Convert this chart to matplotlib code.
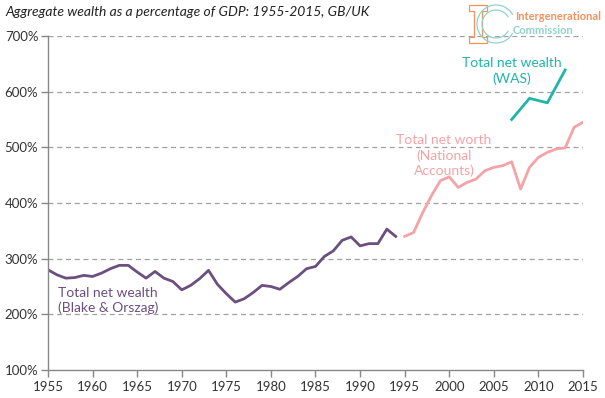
import matplotlib
matplotlib.use("Agg")
import matplotlib.pyplot as plt
from matplotlib.patches import Arc, Polygon

plt.rcParams['font.family'] = ['Lato', 'DejaVu Sans']

# Data
bo_years = list(range(1955, 1995))
bo_values = [280, 271, 265, 266, 270, 268, 274, 282, 288, 288,
             276, 265, 277, 265, 259, 244, 252, 264, 279, 254,
             237, 222, 228, 239, 252, 250, 245, 257, 268, 282,
             286, 304, 314, 333, 339, 323, 327, 327, 353, 340]
na_years = list(range(1995, 2016))
na_values = [340, 347, 382, 413, 440, 447, 428, 437, 443, 458,
             464, 467, 474, 425, 464, 482, 491, 497, 499, 536, 545]
was_years = [2007, 2009, 2011, 2013]
was_values = [550, 588, 580, 639]

xticks = list(range(1955, 2016, 5))
yticks = [100, 200, 300, 400, 500, 600, 700]

purple = '#6b4f7f'
pink = '#f4a3a6'
teal = '#20b5a7'
gray = '#888888'

fig = plt.figure(figsize=(6.05, 3.98), dpi=100)
ax = fig.add_axes([48/605, 1-370/398, 535/605, 334/398])

ax.plot(bo_years, bo_values, color=purple, lw=2)
ax.plot(na_years, na_values, color=pink, lw=2)
ax.plot(was_years, was_values, color=teal, lw=2)

ax.set_xlim(1955, 2015)
ax.set_ylim(100, 700)
ax.set_xticks(xticks)
ax.set_xticklabels([str(x) for x in xticks])
ax.set_yticks(yticks)
ax.set_yticklabels([f'{y}%' for y in yticks])
for y in yticks[1:]:
    ax.axhline(y, color='#a0a0a0', lw=0.9, ls=(0, (4, 3)), zorder=0)

for s in ['top', 'right']:
    ax.spines[s].set_visible(False)
for s in ['left', 'bottom']:
    ax.spines[s].set_color(gray)
    ax.spines[s].set_linewidth(1)
ax.tick_params(axis='both', colors=gray, labelcolor='#333333', labelsize=9.5, length=5, width=1)
ax.tick_params(axis='x', pad=3)
ax.tick_params(axis='y', pad=2)

ax.text(1956.1, 225, 'Total net wealth\n(Blake & Orszag)', color=purple, fontsize=10,
        ha='left', va='center', linespacing=1.3)
ax.text(1999.4, 485, 'Total net worth\n(National\nAccounts)', color=pink, fontsize=10,
        ha='center', va='center', linespacing=1.3)
ax.text(2007.0, 637, 'Total net wealth\n(WAS)', color=teal, fontsize=10,
        ha='center', va='center', linespacing=1.3)

fig.text(5/605, 1-12/398, 'Aggregate wealth as a percentage of GDP: 1955-2015, GB/UK',
         fontsize=10, style='italic', color='#222222', ha='left', va='center')

# Logo
orange = '#f0935e'
lteal = '#8fd3cc'
def fx(px):
    return px/605
def fy(py):
    return 1-py/398
I_pts = [(469, 5), (487, 5), (487, 11), (482, 11), (482, 37), (487, 37), (487, 43),
         (469, 43), (469, 37), (474, 37), (474, 11), (469, 11)]
fig.add_artist(Polygon([(fx(x), fy(y)) for x, y in I_pts], closed=True, fill=False,
                       edgecolor=orange, lw=0.9, transform=fig.transFigure))
cx, cy = fx(496), fy(24)
for r in (19, 14):
    fig.add_artist(Arc((cx, cy), 2*r/605, 2*r/398, theta1=40, theta2=320, color=lteal, lw=0.9,
                       transform=fig.transFigure))
fig.text(fx(515), fy(17), 'Intergenerational', color=orange, fontsize=8, ha='left', va='center',
         fontweight='bold')
fig.text(fx(513), fy(31), 'Commission', color=lteal, fontsize=8, ha='left', va='center',
         fontweight='bold')

fig.savefig('out.png', dpi=100)
